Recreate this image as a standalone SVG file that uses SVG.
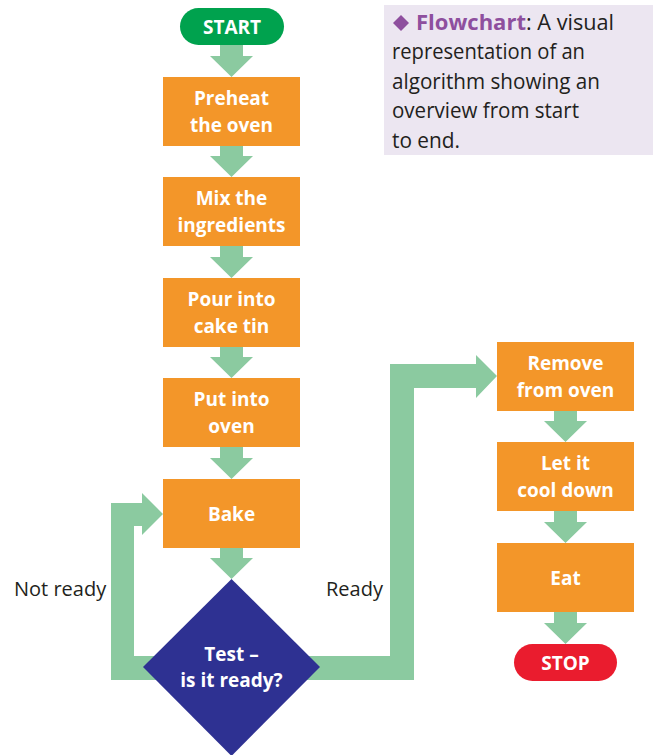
<svg xmlns="http://www.w3.org/2000/svg" width="654" height="755" viewBox="0 0 654 755">
<style>
.box{fill:#f39629}
.arw{fill:#8bcaa0}
.bt{font-family:"Open Sans","Noto Sans",sans-serif;font-weight:bold;font-size:19px;fill:#ffffff;text-anchor:middle}
.lbl{font-family:"Open Sans","Noto Sans",sans-serif;font-size:20px;fill:#231f20}
.leg{font-family:"Open Sans","Noto Sans",sans-serif;font-size:22px;fill:#231f20}
.key{font-weight:bold;fill:#8e4f9e}
</style>
<rect x="384" y="5" width="269" height="150" fill="#ece6f1"/>
<g id="legend">
<polygon points="393,23 401,15 409,23 401,31" fill="#8e4f9e"/>
<text class="leg key" x="416" y="30" textLength="110" lengthAdjust="spacingAndGlyphs">Flowchart</text>
<text class="leg" x="526" y="30" textLength="88" lengthAdjust="spacingAndGlyphs">: A visual</text>
<text class="leg" x="392" y="59" textLength="193" lengthAdjust="spacingAndGlyphs">representation of an</text>
<text class="leg" x="392" y="89" textLength="208" lengthAdjust="spacingAndGlyphs">algorithm showing an</text>
<text class="leg" x="392" y="118" textLength="187" lengthAdjust="spacingAndGlyphs">overview from start</text>
<text class="leg" x="392" y="148" textLength="68" lengthAdjust="spacingAndGlyphs">to end.</text>
</g>
<g id="connectors">
<polygon class="arw" points="220,45 243,45 243,56 253,56 231.5,77 210,56 220,56"/>
<polygon class="arw" points="220,146 243,146 243,156 253,156 231.5,177 210,156 220,156"/>
<polygon class="arw" points="220,246 243,246 243,257 253,257 231.5,278 210,257 220,257"/>
<polygon class="arw" points="220,347 243,347 243,357 253,357 231.5,378 210,357 220,357"/>
<polygon class="arw" points="220,447 243,447 243,458 253,458 231.5,479 210,458 220,458"/>
<polygon class="arw" points="220,548 243,548 243,558 253,558 231.5,579 210,558 220,558"/>
<polygon class="arw" points="554,411 577,411 577,421 587,421 565.5,442 544,421 554,421"/>
<polygon class="arw" points="554,511 577,511 577,522 587,522 565.5,543 544,522 554,522"/>
<polygon class="arw" points="554,612 577,612 577,623 587,623 565.5,644 544,623 554,623"/>
<polygon class="arw" points="111,503 142,503 142,493 163,514 142,535 142,526 134,526 134,656 231,656 231,680 111,680"/>
<polygon class="arw" points="231,656 390,656 390,364 476,364 476,355 497,376 476,398 476,388 414,388 414,680 231,680"/>
<text class="lbl" x="14" y="596">Not ready</text>
<text class="lbl" x="326" y="596">Ready</text>
</g>
<g id="start">
<rect x="180" y="8" width="104" height="37" rx="18.5" fill="#00a24e"/>
<text class="bt" x="232" y="34" font-size="20">START</text>
</g>
<g id="preheat">
<rect class="box" x="163" y="77" width="137" height="69"/>
<text class="bt" x="231.5" y="105">Preheat</text>
<text class="bt" x="231.5" y="132">the oven</text>
</g>
<g id="mix">
<rect class="box" x="163" y="177" width="137" height="69"/>
<text class="bt" x="231.5" y="205">Mix the</text>
<text class="bt" x="231.5" y="232">ingredients</text>
</g>
<g id="pour">
<rect class="box" x="163" y="278" width="137" height="69"/>
<text class="bt" x="231.5" y="306">Pour into</text>
<text class="bt" x="231.5" y="333">cake tin</text>
</g>
<g id="put">
<rect class="box" x="163" y="378" width="137" height="69"/>
<text class="bt" x="231.5" y="406">Put into</text>
<text class="bt" x="231.5" y="433">oven</text>
</g>
<g id="bake">
<rect class="box" x="163" y="479" width="137" height="69"/>
<text class="bt" x="231.5" y="521">Bake</text>
</g>
<g id="test">
<polygon points="231.5,579 320,667 231.5,756 143,667" fill="#2e3192"/>
<text class="bt" x="231.5" y="661">Test –</text>
<text class="bt" x="231.5" y="687">is it ready?</text>
</g>
<g id="remove">
<rect class="box" x="497" y="342" width="137" height="69"/>
<text class="bt" x="565.5" y="370">Remove</text>
<text class="bt" x="565.5" y="397">from oven</text>
</g>
<g id="cool">
<rect class="box" x="497" y="442" width="137" height="69"/>
<text class="bt" x="565.5" y="470">Let it</text>
<text class="bt" x="565.5" y="497">cool down</text>
</g>
<g id="eat">
<rect class="box" x="497" y="543" width="137" height="69"/>
<text class="bt" x="565.5" y="585">Eat</text>
</g>
<g id="stop">
<rect x="514" y="644" width="103" height="37" rx="18.5" fill="#ea1c2e"/>
<text class="bt" x="565.5" y="670" font-size="20">STOP</text>
</g>
</svg>
